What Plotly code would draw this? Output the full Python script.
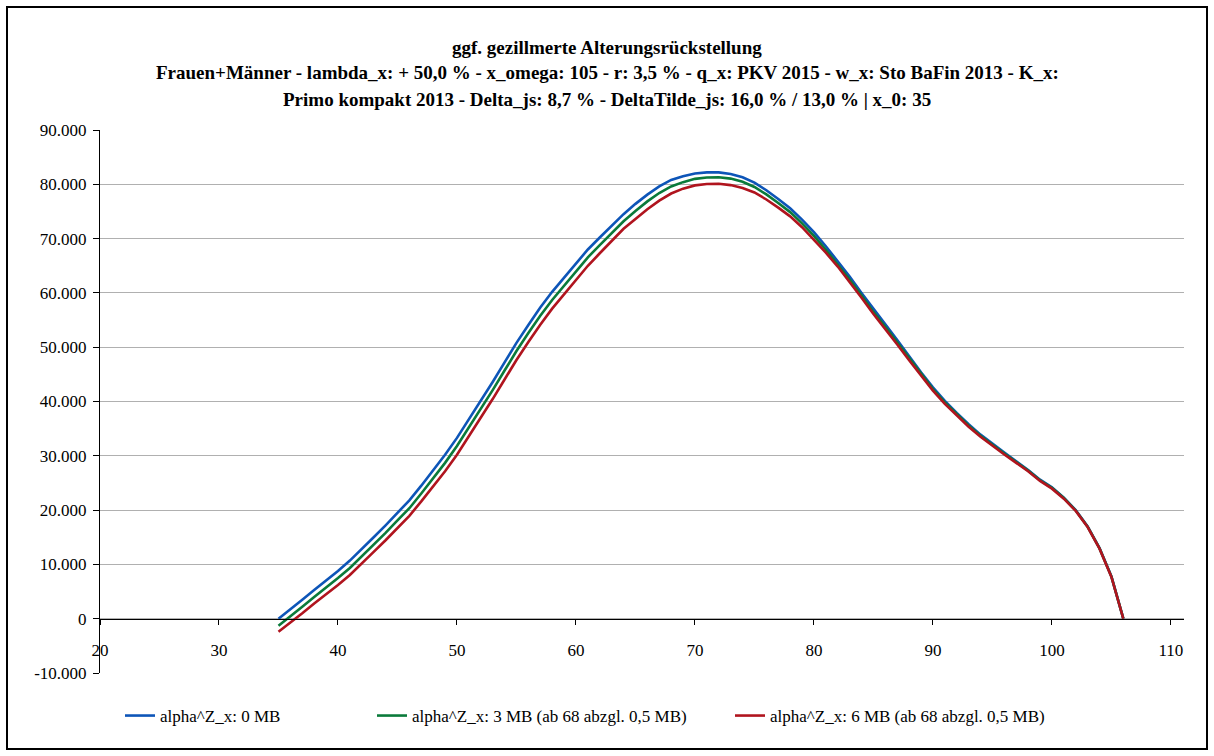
import plotly.graph_objects as go

ages = list(range(35, 107))

blue_0mb = [0, 1700, 3500, 5300, 7000, 8800, 10700, 12800, 15000, 17200,
            19500, 21800, 24500, 27300, 30200, 33300, 36700, 40000, 43600, 47200,
            50800, 54100, 57300, 60200, 62800, 65500, 68000, 70200, 72400, 74500,
            76400, 78100, 79600, 80800, 81500, 82000, 82200, 82200, 81900, 81300,
            80300, 78900, 77300, 75600, 73500, 71200, 68600, 65900, 63000, 60000,
            57000, 54200, 51300, 48300, 45400, 42600, 40100, 37900, 35800, 33900,
            32200, 30600, 29000, 27400, 25600, 24200, 22300, 20000, 17000, 13000,
            7800, 0]

green_3mb = [-1300, 400, 2200, 4000, 5700, 7500, 9350, 11450, 13600, 15800,
             18100, 20350, 23050, 25800, 28700, 31800, 35200, 38500, 42100, 45700,
             49300, 52600, 55800, 58700, 61300, 64000, 66550, 68800, 71050, 73200,
             75100, 76850, 78400, 79600, 80400, 81000, 81250, 81300, 81050, 80480,
             79500, 78150, 76570, 74880, 72800, 70500, 67950, 65300, 62450, 59500,
             56500, 53750, 50900, 47950, 45080, 42300, 39820, 37650, 35580, 33700,
             32000, 30420, 28850, 27270, 25490, 24100, 22220, 19930, 16940, 12950,
             7760, 0]

red_6mb = [-2400, -750, 1000, 2800, 4450, 6200, 8050, 10100, 12300, 14450,
           16700, 18950, 21600, 24300, 27150, 30200, 33550, 36850, 40450, 44050,
           47650, 50950, 54150, 57100, 59750, 62400, 65000, 67300, 69600, 71800,
           73600, 75400, 77000, 78300, 79200, 79800, 80050, 80100, 79850, 79300,
           78500, 77200, 75700, 74100, 72100, 69800, 67400, 64850, 62050, 59100,
           56100, 53350, 50500, 47600, 44750, 42000, 39550, 37400, 35350, 33500,
           31800, 30250, 28700, 27150, 25380, 23950, 22100, 19850, 16880, 12900,
           7700, 0]

series_names = ["alpha^Z_x: 0 MB",
                "alpha^Z_x: 3 MB (ab 68 abzgl. 0,5 MB)",
                "alpha^Z_x: 6 MB (ab 68 abzgl. 0,5 MB)"]
series_colors = ["#0d55b8", "#0a7a3a", "#b0141e"]

y_tick_vals = [-10000, 0, 10000, 20000, 30000, 40000, 50000, 60000, 70000, 80000, 90000]
y_tick_text = ["-10.000", "0", "10.000", "20.000", "30.000", "40.000",
               "50.000", "60.000", "70.000", "80.000", "90.000"]
x_tick_vals = [20, 30, 40, 50, 60, 70, 80, 90, 100, 110]

title_lines = [
    "ggf. gezillmerte Alterungsrückstellung",
    "Frauen+Männer - lambda_x: + 50,0 % - x_omega: 105 - r: 3,5 % - q_x: PKV 2015 - w_x: Sto BaFin 2013 - K_x:",
    "Primo kompakt 2013 - Delta_js: 8,7 % - DeltaTilde_js: 16,0 % / 13,0 % | x_0: 35",
]

W, H = 1214, 756
L, R, T, B = 100, 30, 130, 83
pw, ph = W - L - R, H - T - B

def px_x(px):
    return (px - L) / pw

def px_y(py):
    return (H - B - py) / ph

FONT = "Liberation Serif"

fig = go.Figure()
legends = ["legend", "legend2", "legend3"]
for name, vals, col, lg in zip(series_names, [blue_0mb, green_3mb, red_6mb], series_colors, legends):
    fig.add_trace(go.Scatter(x=ages, y=vals, mode="lines", name=name,
                             line=dict(color=col, width=2.6), legend=lg))

legend_x_px = [120, 372, 730]
leg_common = dict(orientation="h", yanchor="middle", xanchor="left",
                  font=dict(family=FONT, size=17, color="black"),
                  bgcolor="rgba(0,0,0,0)")
layout_legends = {}
for lg, lx in zip(legends, legend_x_px):
    layout_legends[lg] = dict(x=px_x(lx), y=px_y(716), **leg_common)

annotations = []
for i, line in enumerate(title_lines):
    annotations.append(dict(text="<b>" + line + "</b>", x=px_x(607), xref="paper",
                            y=px_y([47, 73, 99][i]), yref="paper",
                            showarrow=False, xanchor="center", yanchor="middle",
                            font=dict(family=FONT, size=19, color="black")))

fig.update_layout(
    width=W, height=H,
    margin=dict(l=L, r=R, t=T, b=B),
    paper_bgcolor="white", plot_bgcolor="white",
    showlegend=True,
    annotations=annotations,
    font=dict(family=FONT, size=17, color="black"),
    shapes=[dict(type="rect", xref="paper", yref="paper",
                 x0=px_x(7), x1=px_x(1207), y0=px_y(749), y1=px_y(7),
                 line=dict(color="black", width=2), layer="below")],
    **layout_legends,
)

fig.update_xaxes(range=[20, 111.1], tickvals=x_tick_vals,
                 showgrid=False, zeroline=False,
                 showline=True, linecolor="black", linewidth=1,
                 ticks="outside", ticklen=5, tickcolor="black",
                 anchor="free", position=0.1,
                 ticklabelstandoff=11,
                 tickfont=dict(family=FONT, size=17, color="black"))
fig.update_yaxes(range=[-10000, 90000], tickvals=y_tick_vals, ticktext=y_tick_text,
                 showgrid=True, gridcolor="#b0b0b0", gridwidth=1, zeroline=False,
                 showline=True, linecolor="black", linewidth=1,
                 ticks="outside", ticklen=6, tickcolor="black",
                 ticklabelstandoff=3,
                 tickfont=dict(family=FONT, size=17, color="black"))

fig.write_html("out.html")
